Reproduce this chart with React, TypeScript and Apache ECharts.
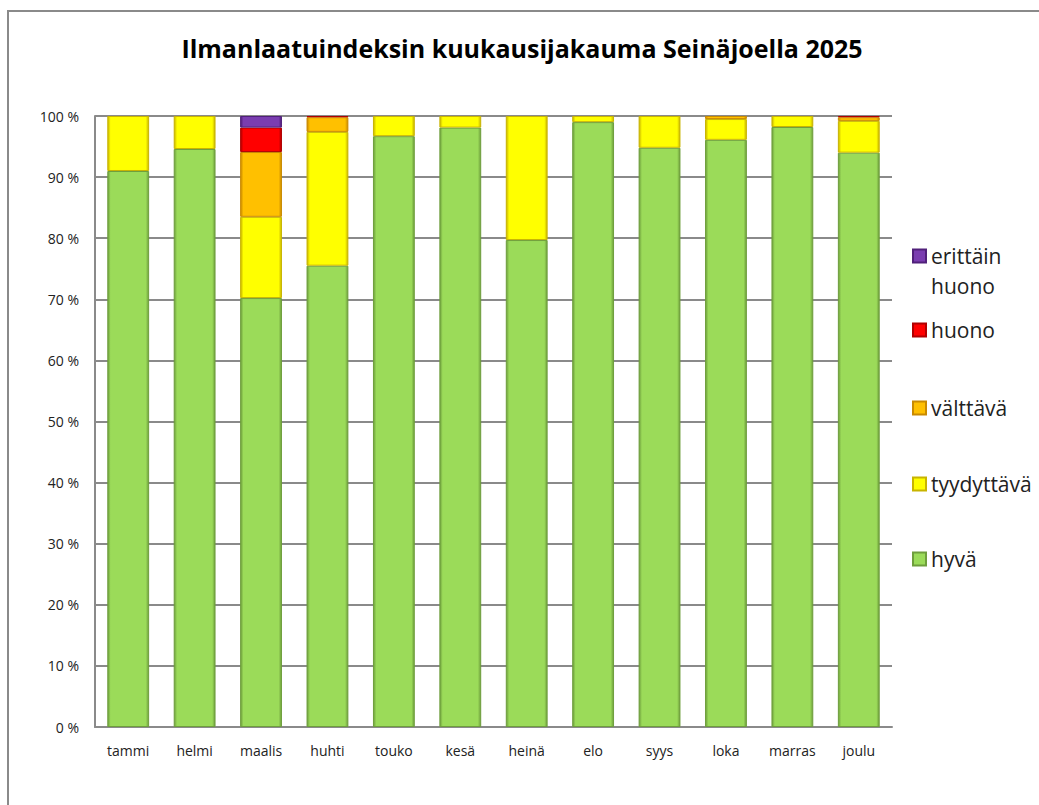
import React, { useEffect, useRef } from "react";
import * as echarts from "echarts";

const months = ["tammi", "helmi", "maalis", "huhti", "touko", "kesä", "heinä", "elo", "syys", "loka", "marras", "joulu"];
const hyva = [91.0, 94.6, 70.2, 75.5, 96.7, 98.1, 79.7, 99.0, 94.8, 96.1, 98.2, 94.0];
const tyydyttava = [9.0, 5.4, 13.3, 21.9, 3.3, 1.9, 20.3, 1.0, 5.2, 3.4, 1.8, 5.2];
const valttava = [0, 0, 10.6, 2.4, 0, 0, 0, 0, 0, 0.5, 0, 0.6];
const huono = [0, 0, 4.0, 0.2, 0, 0, 0, 0, 0, 0, 0, 0.2];
const erittainHuono = [0, 0, 1.9, 0, 0, 0, 0, 0, 0, 0, 0, 0];
const yTicks = [0, 10, 20, 30, 40, 50, 60, 70, 80, 90, 100];

const FONT = "'Open Sans', 'Liberation Sans', sans-serif";

function bevel(main: string, dark: string) {
  return new echarts.graphic.LinearGradient(1, 0, 0, 0, [
    { offset: 0, color: dark },
    { offset: 0.07, color: main },
    { offset: 0.93, color: main },
    { offset: 1, color: dark },
  ]);
}

const seriesDefs = [
  { name: "hyvä", data: hyva, main: "#9BDB59", dark: "#6E9E3C", legendTop: 542 },
  { name: "tyydyttävä", data: tyydyttava, main: "#FFFF00", dark: "#C8B400", legendTop: 467 },
  { name: "välttävä", data: valttava, main: "#FFC000", dark: "#C98A00", legendTop: 391 },
  { name: "huono", data: huono, main: "#FF0000", dark: "#B00000", legendTop: 313 },
  { name: "erittäin huono", data: erittainHuono, main: "#7A3DB0", dark: "#50207A", legendTop: 206 },
];

export default function App() {
  const ref = useRef<HTMLDivElement>(null);
  useEffect(() => {
    if (!ref.current) return;
    const chart = echarts.init(ref.current, undefined, { renderer: "svg" });
    const option: any = {
      animation: false,
      backgroundColor: "#ffffff",
      title: {
        text: "Ilmanlaatuindeksin kuukausijakauma Seinäjoella 2025",
        left: 517,
        textAlign: "center",
        top: 30,
        textStyle: { fontFamily: FONT, fontSize: 25, fontWeight: "bold", color: "#000" },
      },
      graphic: [
        {
          type: "rect",
          shape: { x: 8, y: 11, width: 1100, height: 900 },
          style: { fill: "none", stroke: "#8a8a8a", lineWidth: 2 },
          silent: true,
        },
      ],
      legend: seriesDefs
        .slice()
        .reverse()
        .map((s) => ({
          data: [s.name],
          orient: "vertical",
          left: 907,
          top: s.legendTop,
          itemWidth: 13,
          itemHeight: 13,
          itemGap: 0,
          icon: "rect",
          selectedMode: false,
          formatter: (n: string) => (n === "erittäin huono" ? " \nerittäin\nhuono" : n),
          textStyle: { fontFamily: FONT, fontSize: 21, color: "#222", lineHeight: s.name === "erittäin huono" ? 30 : 24 },
        })),
      grid: { left: 95, right: 147, top: 116, bottom: 78 },
      xAxis: {
        type: "category",
        data: months,
        axisLine: { lineStyle: { color: "#8a8a8a", width: 2 } },
        axisTick: { show: false },
        axisLabel: { fontFamily: FONT, fontSize: 14, color: "#222", margin: 16 },
      },
      yAxis: {
        type: "value",
        min: 0,
        max: 100,
        interval: 10,
        axisLine: { show: true, lineStyle: { color: "#8a8a8a", width: 2 } },
        axisTick: { show: false },
        splitLine: { lineStyle: { color: "#8a8a8a", width: 2 } },
        axisLabel: {
          fontFamily: FONT,
          fontSize: 14,
          color: "#222",
          margin: 16,
          formatter: (v: number) => (yTicks.includes(v) ? v + " %" : ""),
        },
      },
      series: seriesDefs.map((s) => ({
        name: s.name,
        type: "bar",
        stack: "total",
        barCategoryGap: "37%",
        data: s.data.map((v) => (v === 0 ? null : v)),
        itemStyle: {
          color: bevel(s.main, s.dark),
          borderColor: s.dark,
          borderWidth: 1,
        },
        emphasis: { disabled: true },
      })),
    };
    chart.setOption(option);
    return () => chart.dispose();
  }, []);
  return (
    <div
      ref={ref}
      style={{ position: "fixed", left: 0, top: 0, width: 1039, height: 805 }}
    />
  );
}
